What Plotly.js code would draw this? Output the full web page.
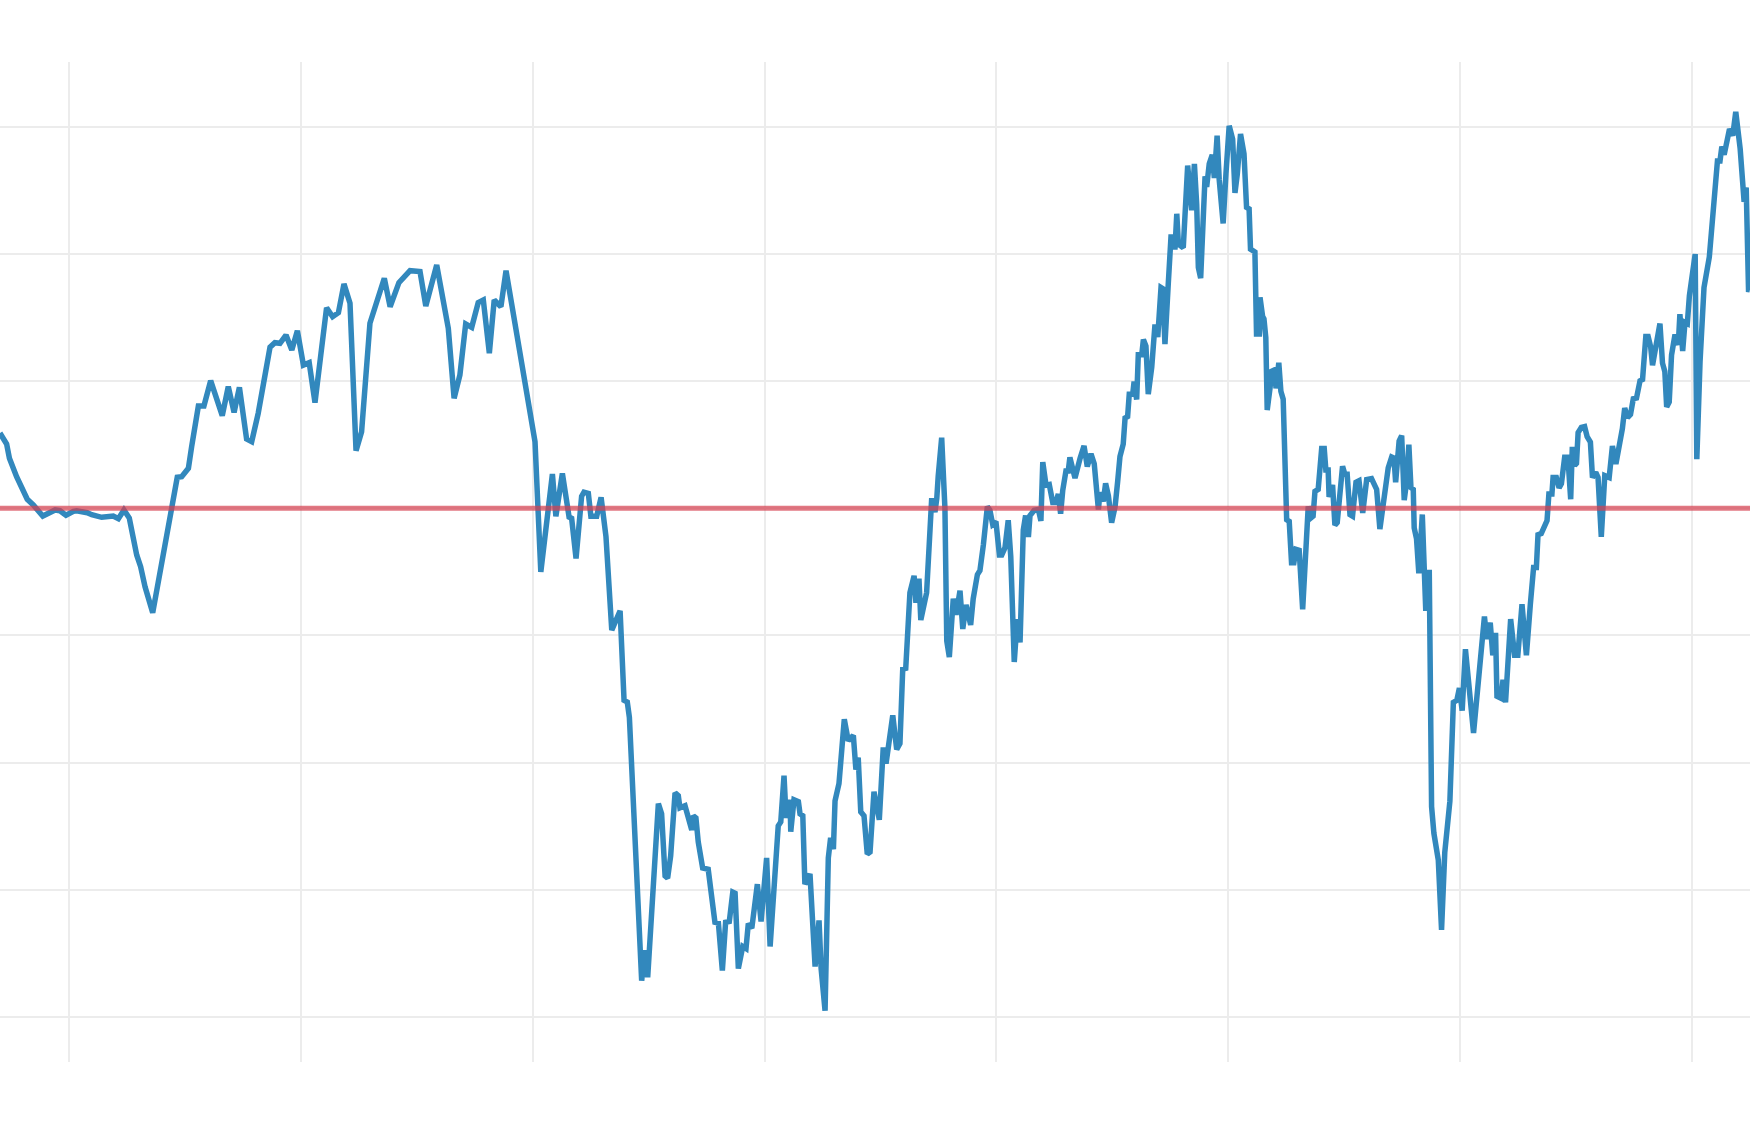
<!DOCTYPE html>
<html>
<head>
<meta charset="utf-8">
<script src="https://cdn.plot.ly/plotly-3.0.1.min.js"></script>
<style>
  html, body { margin: 0; padding: 0; background: #ffffff; }
  #chart { width: 1750px; height: 1125px; }
</style>
</head>
<body>
<div id="chart"></div>
<script>
// Time (fractional years) of each observation
const dates = [
  2012.702, 2012.731, 2012.743, 2012.774, 2012.820, 2012.846, 2012.887, 2012.940, 2012.961, 2012.987,
  2013.019, 2013.033, 2013.079, 2013.098, 2013.141, 2013.191, 2013.213, 2013.237, 2013.260, 2013.292,
  2013.309, 2013.328, 2013.361, 2013.407, 2013.439, 2013.467, 2013.486, 2013.515, 2013.529, 2013.558,
  2013.582, 2013.611, 2013.661, 2013.687, 2013.712, 2013.735, 2013.766, 2013.788, 2013.816, 2013.841,
  2013.867, 2013.888, 2013.910, 2013.936, 2013.961, 2013.985, 2014.011, 2014.036, 2014.061, 2014.086,
  2014.111, 2014.137, 2014.162, 2014.186, 2014.212, 2014.238, 2014.262, 2014.298, 2014.327, 2014.360,
  2014.385, 2014.423, 2014.471, 2014.514, 2014.539, 2014.586, 2014.636, 2014.661, 2014.686, 2014.711,
  2014.737, 2014.765, 2014.787, 2014.813, 2014.834, 2014.863, 2014.885, 2014.931, 2014.953, 2014.985,
  2015.010,
  2015.035, 2015.085, 2015.100, 2015.128, 2015.157, 2015.168, 2015.187, 2015.211, 2015.221, 2015.240,
  2015.251, 2015.276, 2015.295, 2015.316, 2015.341, 2015.362, 2015.377, 2015.394, 2015.408, 2015.417,
  2015.470, 2015.484, 2015.496, 2015.542, 2015.556, 2015.571, 2015.582, 2015.595, 2015.614, 2015.628,
  2015.635, 2015.657, 2015.664, 2015.686, 2015.693, 2015.704, 2015.714, 2015.733, 2015.757, 2015.786,
  2015.801, 2015.818, 2015.832, 2015.848, 2015.863, 2015.873, 2015.887, 2015.906, 2015.920, 2015.930,
  2015.945, 2015.969, 2015.985, 2016.009, 2016.024,
  2016.059, 2016.070, 2016.084, 2016.093, 2016.110, 2016.113, 2016.127, 2016.146, 2016.153, 2016.165,
  2016.174, 2016.196, 2016.218, 2016.235, 2016.244, 2016.261, 2016.275, 2016.285, 2016.297, 2016.304,
  2016.321, 2016.344, 2016.361, 2016.383, 2016.394, 2016.404, 2016.415, 2016.429, 2016.443, 2016.455,
  2016.472, 2016.495, 2016.512, 2016.524, 2016.553, 2016.570, 2016.584, 2016.596, 2016.609, 2016.627,
  2016.645, 2016.653, 2016.666, 2016.674, 2016.692, 2016.699, 2016.714, 2016.721, 2016.735, 2016.743,
  2016.749, 2016.764, 2016.778, 2016.786, 2016.797, 2016.814, 2016.826, 2016.843, 2016.855, 2016.869,
  2016.889, 2016.900, 2016.918, 2016.929, 2016.944,
  2016.961, 2016.972, 2016.984, 2016.998, 2017.013, 2017.023, 2017.037, 2017.051, 2017.062, 2017.077,
  2017.090, 2017.102, 2017.116, 2017.126, 2017.138, 2017.145, 2017.157, 2017.163, 2017.181, 2017.192,
  2017.200, 2017.214, 2017.228, 2017.243, 2017.257, 2017.267, 2017.277, 2017.286, 2017.300, 2017.310,
  2017.317, 2017.327, 2017.339, 2017.361, 2017.378, 2017.392, 2017.408, 2017.422, 2017.433, 2017.440,
  2017.447, 2017.461, 2017.471, 2017.483, 2017.497, 2017.512, 2017.523, 2017.533, 2017.547, 2017.555,
  2017.566, 2017.573, 2017.588, 2017.594, 2017.605, 2017.612, 2017.627, 2017.634, 2017.645, 2017.655,
  2017.670, 2017.684, 2017.696, 2017.710, 2017.717, 2017.727, 2017.741, 2017.753, 2017.763, 2017.770,
  2017.778, 2017.785, 2017.796, 2017.806, 2017.825, 2017.835, 2017.842, 2017.854, 2017.864, 2017.871,
  2017.881, 2017.900, 2017.907, 2017.918, 2017.931, 2017.940,
  2017.952, 2017.961, 2017.978, 2017.990, 2018.004, 2018.019, 2018.029, 2018.039, 2018.053, 2018.068,
  2018.079, 2018.090, 2018.096, 2018.115, 2018.122, 2018.134, 2018.137, 2018.148, 2018.154, 2018.162,
  2018.168, 2018.180, 2018.187, 2018.201, 2018.206, 2018.218, 2018.227, 2018.237, 2018.252, 2018.263,
  2018.273, 2018.283, 2018.292, 2018.306, 2018.321, 2018.345, 2018.355, 2018.366, 2018.374, 2018.388,
  2018.403, 2018.414, 2018.421, 2018.431, 2018.435, 2018.450, 2018.460, 2018.470, 2018.485, 2018.493,
  2018.503, 2018.513, 2018.525, 2018.536, 2018.551, 2018.564, 2018.580, 2018.597, 2018.618, 2018.640,
  2018.654, 2018.668, 2018.690, 2018.705, 2018.715, 2018.722, 2018.737, 2018.748, 2018.759, 2018.769,
  2018.779, 2018.788, 2018.798, 2018.802, 2018.812, 2018.822, 2018.837, 2018.852, 2018.867, 2018.877,
  2018.887, 2018.906, 2018.920, 2018.934, 2018.956,
  2018.971, 2018.986, 2018.997, 2019.009, 2019.023, 2019.038, 2019.058, 2019.105, 2019.115, 2019.130,
  2019.141, 2019.153, 2019.159, 2019.177, 2019.185, 2019.196, 2019.218, 2019.235, 2019.249, 2019.267,
  2019.286, 2019.303, 2019.317, 2019.329, 2019.336, 2019.350, 2019.362, 2019.375, 2019.383, 2019.396,
  2019.401, 2019.415, 2019.427, 2019.437, 2019.451, 2019.465, 2019.477, 2019.484, 2019.494, 2019.502,
  2019.509, 2019.523, 2019.537, 2019.548, 2019.562, 2019.571, 2019.585, 2019.595, 2019.609, 2019.624,
  2019.643, 2019.657, 2019.672, 2019.686, 2019.700, 2019.710, 2019.722, 2019.735, 2019.747, 2019.761,
  2019.776, 2019.787, 2019.801, 2019.811, 2019.822, 2019.830, 2019.845, 2019.850, 2019.862, 2019.873,
  2019.883, 2019.891, 2019.902, 2019.912, 2019.927, 2019.941, 2019.948, 2019.960, 2019.970, 2019.980,
  2019.989, 2020.014, 2020.021, 2020.035, 2020.052, 2020.075, 2020.093, 2020.110, 2020.121, 2020.129,
  2020.139, 2020.150, 2020.162, 2020.176, 2020.182, 2020.189, 2020.208, 2020.219, 2020.225, 2020.234,
  2020.244, 2020.250
];

// Series value at each observation
const values = [
  5.92, 5.06, 3.93, 2.49, 0.71, 0.26, -0.61, -0.13, -0.19, -0.55,
  -0.24, -0.19, -0.35, -0.50, -0.71, -0.61, -0.82, -0.13, -0.76, -3.67,
  -4.59, -6.17, -8.21, -3.81, -0.39, 2.44, 2.49, 3.15, 4.85, 8.05,
  8.05, 10.04, 7.29, 9.57, 7.55, 9.52, 5.45, 5.24, 7.47, 9.88,
  12.67, 13.03, 12.98, 13.63, 12.45, 13.97, 11.27, 11.46, 8.31, 12.06,
  15.78, 15.07, 15.39, 17.65, 16.13, 4.53, 6.03, 14.56, 16.13, 18.10,
  15.86, 17.75, 18.69, 18.62, 15.92, 19.14, 14.16, 8.65, 10.49, 14.50,
  14.24, 16.18, 16.39, 12.20, 16.39, 15.86, 18.69, 13.50, 11.41, 7.47,
  5.24,
  -5.00, 2.69, -0.63, 2.75, -0.69, -0.79, -3.95, 0.95, 1.27, 1.17,
  -0.63, -0.63, 0.86, -2.21, -9.58, -8.79, -8.06, -15.11, -15.24, -16.44,
  -37.16, -34.78, -36.90, -23.24, -24.04, -28.93, -29.10, -27.36, -22.39, -22.61,
  -23.56, -23.40, -23.88, -25.30, -24.19, -24.35, -26.25, -28.30, -28.40, -32.57,
  -32.64, -36.37, -32.57, -32.51, -30.20, -30.29, -36.21, -34.47, -34.63, -32.67,
  -33.04, -29.57, -32.51, -27.51, -34.47,
  -24.98, -24.67, -21.03, -24.35, -22.93, -25.45, -22.93, -23.08, -24.04, -24.19,
  -29.57, -28.77, -36.05, -32.42, -36.21, -39.53, -27.51, -25.93, -26.82, -23.02,
  -21.66, -16.60, -18.28, -17.87, -20.56, -19.61, -23.88, -24.19, -27.20, -27.04,
  -22.30, -24.51, -18.82, -20.08, -16.29, -18.98, -18.50, -12.65, -12.59, -6.64,
  -5.31, -7.43, -5.53, -8.79, -6.80, -6.64, -1.58, 0.79, -0.31, 0.79,
  2.53, 5.55, 0.00, -10.44, -11.70, -7.11, -8.38, -6.48, -9.49, -7.59,
  -9.17, -7.11, -5.22, -4.90, -2.85,
  0.13, -0.15, -1.27, -1.05, -3.67, -3.67, -3.10, -0.94, -3.80, -12.09,
  -8.72, -10.55, -1.70, -0.57, -2.26, -0.57, -0.29, -0.15, -0.09, -0.99,
  3.64, 1.82, 1.87, 0.46, 0.46, 1.12, -0.43, 1.39, 2.94, 2.94,
  4.00, 3.22, 2.38, 3.93, 4.91, 3.28, 4.29, 3.50, 0.55, -0.09,
  1.25, 0.55, 1.96, 0.98, -1.13, 0.13, 2.10, 4.07, 5.05, 7.10,
  7.21, 8.98, 8.98, 9.97, 8.56, 12.07, 12.07, 13.28, 12.77, 8.98,
  11.09, 14.46, 13.48, 17.36, 17.28, 12.92, 17.55, 21.35, 21.35, 20.36,
  23.17, 20.79, 20.64, 20.50, 26.96, 25.42, 23.45, 27.10, 23.87, 18.95,
  18.11, 26.12, 25.28, 27.10, 27.81, 25.98,
  29.32, 25.87, 22.41, 26.29, 30.09, 29.03, 24.82, 26.29, 29.45, 27.89,
  23.67, 23.55, 20.39, 20.17, 13.72, 13.72, 16.59, 15.11, 14.90, 13.43,
  7.73, 9.43, 10.77, 10.90, 9.43, 11.45, 9.21, 8.58, -0.90, -1.03,
  -4.28, -4.28, -3.23, -3.31, -7.95, 0.15, -0.78, -0.61, 1.33, 1.49,
  4.70, 4.70, 3.01, 3.01, 0.90, 1.83, -1.33, -1.12, 2.68, 3.30,
  2.68, 2.68, -0.49, -0.61, 2.05, 2.17, -0.36, 2.26, 2.34, 1.49,
  -1.63, 0.35, 3.18, 4.03, 3.95, 2.05, 5.30, 5.71, 0.65, 2.05,
  5.00, 1.63, 1.49, -1.54, -2.38, -5.12, -0.49, -8.07, -4.83, -23.46,
  -25.57, -27.68, -33.16, -27.05, -23.04,
  -15.27, -15.11, -14.15, -15.92, -11.09, -14.15, -17.68, -8.52, -10.28, -9.00,
  -11.57, -9.80, -14.79, -14.95, -13.50, -15.27, -8.72, -11.57, -11.57, -7.55,
  -11.57, -7.55, -4.66, -4.66, -2.08, -1.99, -1.54, -0.96, 1.13, 1.13,
  2.42, 2.42, 1.61, 1.94, 4.02, 4.02, 0.71, 4.83, 3.38, 3.54,
  5.95, 6.37, 6.43, 5.63, 5.21, 2.42, 2.83, 2.42, -2.25, 2.57,
  2.42, 4.89, 3.48, 4.83, 6.27, 7.88, 7.14, 7.39, 8.62, 8.68,
  10.03, 10.13, 13.51, 13.51, 12.70, 11.25, 12.86, 13.19, 14.53, 11.42,
  10.77, 7.98, 8.36, 12.06, 13.67, 12.86, 15.27, 12.38, 14.63, 14.53,
  16.72, 20.00, 3.86, 11.57, 17.36, 19.78, 23.47, 27.33, 27.33, 28.46,
  27.81, 28.94, 29.84, 29.32, 30.06, 31.19, 28.29, 25.24, 24.11, 25.24,
  17.20, 17.18
];

// Reference level drawn as the red horizontal line
const referenceLevel = 0;

// Axis extents
const xExtent = [2012.7024, 2020.2504];
const yExtent = [-43.56, 35.11];

const traces = [
  {
    x: dates,
    y: values,
    type: 'scatter',
    mode: 'lines',
    line: { color: '#3288bd', width: 5.5 },
    hoverinfo: 'x+y',
    showlegend: false
  },
  {
    x: xExtent,
    y: [referenceLevel, referenceLevel],
    type: 'scatter',
    mode: 'lines',
    line: { color: 'rgba(213,62,79,0.7)', width: 5 },
    hoverinfo: 'skip',
    showlegend: false
  }
];

const layout = {
  width: 1750,
  height: 1125,
  margin: { l: 0, r: 0, t: 62, b: 63, pad: 0 },
  paper_bgcolor: '#ffffff',
  plot_bgcolor: '#ffffff',
  showlegend: false,
  xaxis: {
    range: xExtent,
    tick0: 2013,
    dtick: 1,
    showgrid: true,
    gridcolor: '#ececec',
    gridwidth: 2,
    zeroline: false,
    showline: false,
    showticklabels: false,
    ticks: ''
  },
  yaxis: {
    range: yExtent,
    tick0: 0,
    dtick: 10,
    showgrid: true,
    gridcolor: '#ececec',
    gridwidth: 2,
    zeroline: false,
    showline: false,
    showticklabels: false,
    ticks: ''
  }
};

Plotly.newPlot('chart', traces, layout, { displayModeBar: false, staticPlot: true });
</script>
</body>
</html>
